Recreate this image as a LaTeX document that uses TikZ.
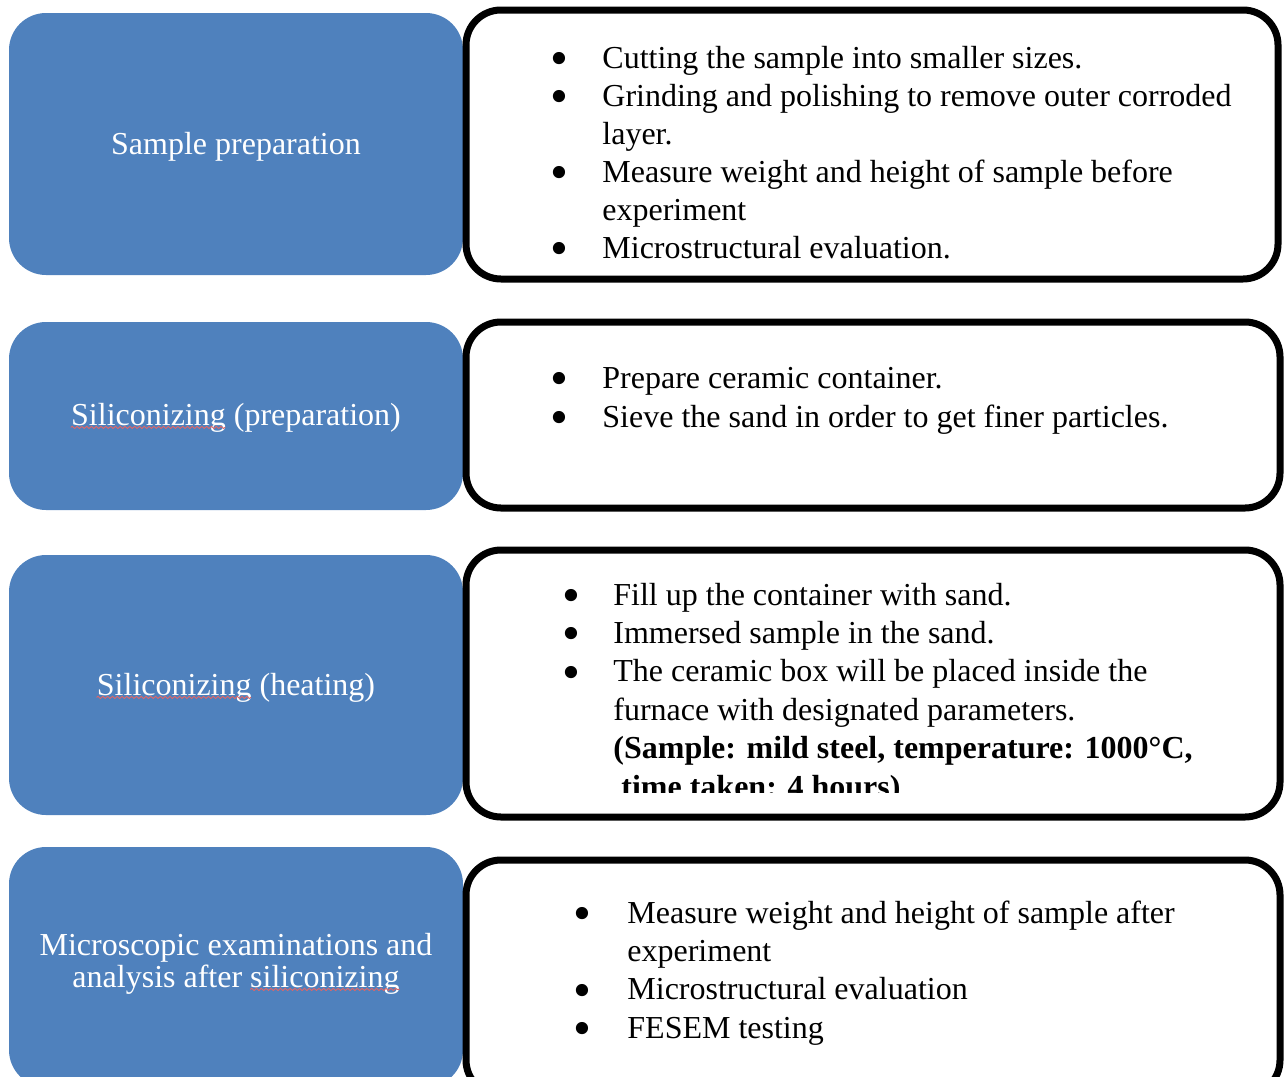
\documentclass[tikz,border=0pt]{standalone}
\usepackage{fontspec}
\usepackage{graphicx}
\setmainfont{Liberation Serif}
\usetikzlibrary{decorations.pathmorphing}
\definecolor{boxblue}{HTML}{4F81BD}
\definecolor{wavered}{HTML}{E06666}
\newcommand\bulmark[1]{\makebox[#1][l]{\hspace{-2.2pt}\smash{\raisebox{-3.6pt}{\scalebox{1.6}{•}}}}}
\newlength\wSilA
\newlength\wSilB
\newlength\wLineB
\tikzset{
  bluebox/.style={fill=boxblue, draw=none, rounded corners=18.5pt, minimum width=227pt, inner sep=0pt},
  whitebox/.style={fill=white, draw=black, line width=3.5pt, rounded corners=17.5pt, minimum width=407pt, inner sep=0pt},
  lbl/.style={text=white, anchor=base, inner sep=0pt, font=\fontsize{16}{16}\selectfont, align=center},
  txt/.style={anchor=base west, inner sep=0pt},
  squig/.style={draw=wavered, line width=0.45pt, decorate, decoration={snake, amplitude=0.55pt, segment length=2.4pt}},
}
\begin{document}
\settowidth\wSilA{\fontsize{16}{16}\selectfont Siliconizing}
\settowidth\wSilB{\fontsize{16}{16}\selectfont siliconizing}
\settowidth\wLineB{\fontsize{16}{16}\selectfont analysis after siliconizing}
\begin{tikzpicture}[x=0.5pt,y=-0.5pt]
\path[use as bounding box] (0,0) rectangle (1288,1076);
\clip (0,0) rectangle (1288,1076);
% blue boxes
\node[bluebox, minimum height=131pt] (b1) at (236,144) {};
\node[bluebox, minimum height=94pt] (b2) at (236,416) {};
\node[bluebox, minimum height=130pt] (b3) at (236,685) {};
\node[bluebox, minimum height=120pt] (b4) at (236,967) {};
% white boxes
\node[whitebox, minimum width=406pt, minimum height=134.5pt] (w1) at (872,144.5) {};
\node[whitebox, minimum height=93pt] (w2) at (873,415) {};
\node[whitebox, minimum height=133.5pt] (w3) at (873,683.5) {};
\node[whitebox, minimum height=117.5pt] (w4) at (873,977.5) {};
% labels
\node[lbl] (l1) at (236,154) {Sample preparation};
\node[lbl] (l2) at (236,425) {Siliconizing (preparation)};
\node[lbl] (l3) at (236,695) {Siliconizing (heating)};
\node[lbl] (l4) at (236,987) {Microscopic examinations and\\analysis after siliconizing};
% spell-check squiggles
\coordinate (s2) at ([yshift=-1.2pt]l2.base west);
\coordinate (s3) at ([yshift=-1.2pt]l3.base west);
\coordinate (s4) at ([xshift=0.5\wLineB, yshift=-1.2pt]l4.base);
\draw[squig] (s2) -- ([xshift=\wSilA]s2);
\draw[squig] (s3) -- ([xshift=\wSilA]s3);
\draw[squig] ([xshift=-\wSilB]s4) -- (s4);
% texts
\node[txt, font=\fontsize{16}{19}\selectfont] (t1) at (554.4,68) {\begin{tabular}[t]{@{}l@{}l@{}}
\bulmark{23.8pt} & Cutting the sample into smaller sizes.\\
\bulmark{23.8pt} & Grinding and polishing to remove outer corroded\\
 & layer.\\
\bulmark{23.8pt} & Measure weight and height of sample before\\
 & experiment\\
\bulmark{23.8pt} & Microstructural evaluation.
\end{tabular}};
\node[txt, font=\fontsize{16}{19.5}\selectfont] (t2) at (554.4,388) {\begin{tabular}[t]{@{}l@{}l@{}}
\bulmark{23.8pt} & Prepare ceramic container.\\
\bulmark{23.8pt} & Sieve the sand in order to get finer particles.
\end{tabular}};
\begin{scope}
\clip (460,540) rectangle (1290,792);
\node[txt, font=\fontsize{16}{19.2}\selectfont] (t3) at (566.4,605) {\begin{tabular}[t]{@{}l@{}l@{}}
\bulmark{23.3pt} & Fill up the container with sand.\\
\bulmark{23.3pt} & Immersed sample in the sand.\\
\bulmark{23.3pt} & The ceramic box will be placed inside the\\
 & furnace with designated parameters.\\
 & \textbf{(Sample: mild steel, temperature: 1000°C,}\\
 & \hspace{4pt}\textbf{time taken: 4 hours)}
\end{tabular}};
\end{scope}
\node[txt, font=\fontsize{16}{19.2}\selectfont] (t4) at (577.4,923) {\begin{tabular}[t]{@{}l@{}l@{}}
\bulmark{24.8pt} & Measure weight and height of sample after\\
 & experiment\\
\bulmark{24.8pt} & Microstructural evaluation\\
\bulmark{24.8pt} & FESEM testing
\end{tabular}};
\end{tikzpicture}
\end{document}
